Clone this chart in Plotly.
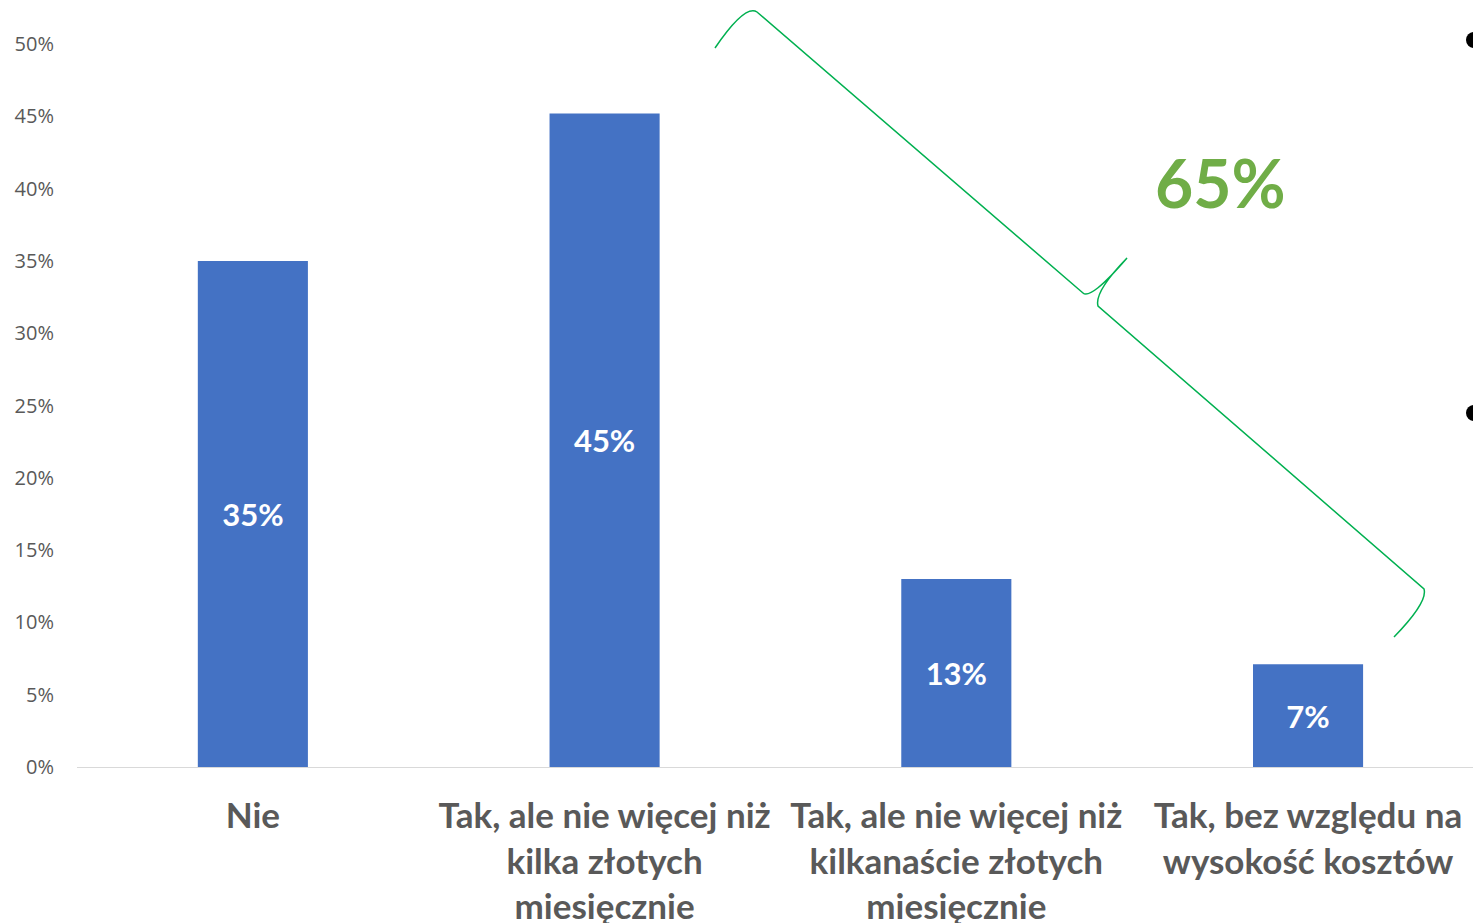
import plotly.graph_objects as go

# ---- data ----
categories = [
    "Nie",
    "Tak, ale nie więcej niż<br>kilka złotych<br>miesięcznie",
    "Tak, ale nie więcej niż<br>kilkanaście złotych<br>miesięcznie",
    "Tak, bez względu na<br>wysokość kosztów",
]
values = [0.35, 0.452, 0.13, 0.071]
tick_vals = [0, 0.05, 0.10, 0.15, 0.20, 0.25, 0.30, 0.35, 0.40, 0.45, 0.50]
tick_text = ["0%", "5%", "10%", "15%", "20%", "25%", "30%", "35%", "40%", "45%", "50%"]
total_label = "65%"

# ---- layout geometry ----
W, H = 1473, 923
L, R, T, B = 77, 0, 12, 156
PW, PH = W - L - R, H - T - B


def px(x, y):
    """convert screen pixel position to paper coords"""
    return (x - L) / PW, (H - B - y) / PH


def path(cmds):
    out = []
    for c in cmds:
        if isinstance(c, str):
            out.append(c)
        else:
            xp, yp = px(*c)
            out.append(f"{xp:.5f},{yp:.5f}")
    return " ".join(out)


fig = go.Figure()
fig.add_trace(go.Bar(
    x=categories,
    y=values,
    width=0.313,
    marker=dict(color="#4472C4", line=dict(width=0)),
    texttemplate="%{y:.0%}",
    textposition="inside",
    insidetextanchor="middle",
    textfont=dict(family="Lato", size=31, color="white", weight="bold"),
    hoverinfo="skip",
))

brace = path([
    "M", (715, 48),
    "Q", (745, 4), (757, 12),
    "L", (1083, 293),
    "Q", (1091, 300), (1127, 258),
    "Q", (1094, 292), (1098, 306),
    "L", (1424, 589),
    "Q", (1428, 602), (1394, 637),
])

shapes = [
    dict(type="path", xref="paper", yref="paper", path=brace,
         line=dict(color="#00B050", width=1.5)),
]
for cy in (40, 413):
    x0, y0 = px(1466, cy - 8)
    x1, y1 = px(1482, cy + 8)
    shapes.append(dict(type="circle", xref="paper", yref="paper",
                       x0=x0, x1=x1, y0=y1, y1=y0,
                       fillcolor="black", line=dict(width=0)))

tx, ty = px(1220, 182)
fig.update_layout(
    width=W, height=H,
    margin=dict(l=L, r=R, t=T, b=B, pad=0, autoexpand=False),
    paper_bgcolor="white", plot_bgcolor="white",
    showlegend=False,
    xaxis=dict(
        type="category",
        range=[-0.5, 3.469],
        automargin=False,
        showgrid=False, zeroline=False,
        showline=True, linecolor="#D9D9D9", linewidth=1,
        ticks="", ticklabelstandoff=18,
        tickfont=dict(family="Lato", size=35, color="#595959", weight="bold"),
    ),
    yaxis=dict(
        range=[0, 0.5 * PH / 723],
        automargin=False,
        tickvals=tick_vals, ticktext=tick_text,
        showgrid=False, zeroline=False, showline=False,
        ticks="", ticklabelstandoff=22,
        tickfont=dict(family="Open Sans", size=20, color="#595959"),
    ),
    shapes=shapes,
    annotations=[dict(
        xref="paper", yref="paper", x=tx, y=ty,
        text=total_label, showarrow=False,
        xanchor="center", yanchor="middle",
        font=dict(family="Lato", size=66, color="#70AD47", weight="bold"),
    )],
)

fig.write_html(
    "out.html",
    config={"displayModeBar": False, "staticPlot": True},
    post_script="document.body.style.margin='0';document.body.style.overflow='hidden';",
)
